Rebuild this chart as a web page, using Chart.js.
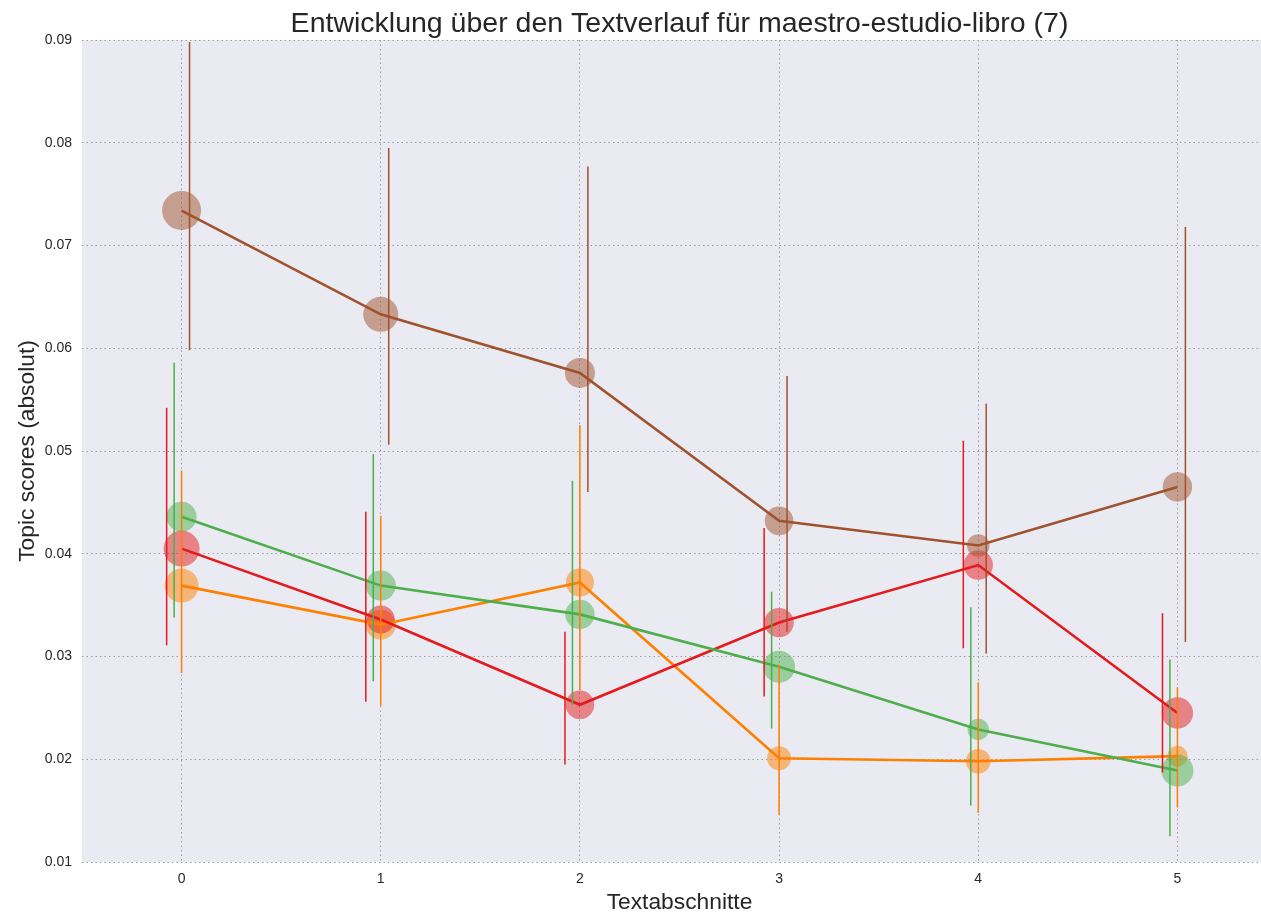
<!DOCTYPE html>
<html>
<head>
<meta charset="utf-8">
<script src="https://cdn.jsdelivr.net/npm/chart.js@4/dist/chart.umd.min.js"></script>
<style>
    html, body { margin: 0; padding: 0; background: #fff; overflow: hidden; }
    #wrap { width: 1300px; height: 914px; }
</style>
</head>
<body>
<div id="wrap"><canvas id="topic-chart"></canvas></div>
<script>
// Textabschnitte on the x axis, topic score ticks on the y axis
const sections = [0, 1, 2, 3, 4, 5];
const yTicks = [0.01, 0.02, 0.03, 0.04, 0.05, 0.06, 0.07, 0.08, 0.09];

// Brown topic
const brownMean = [0.0734, 0.0633, 0.0576, 0.0432, 0.0408, 0.0465];
const brownLow = [0.0598, 0.0506, 0.0460, 0.0324, 0.0303, 0.0314];
const brownHigh = [0.0898, 0.0795, 0.0777, 0.0573, 0.0546, 0.0718];
const brownWeight = [19.5, 17.5, 15, 14.3, 11.3, 14.7];

// Green topic
const greenMean = [0.0436, 0.0369, 0.0341, 0.0290, 0.0229, 0.0189];
const greenLow = [0.0338, 0.0276, 0.0253, 0.0230, 0.0155, 0.0125];
const greenHigh = [0.0586, 0.0497, 0.0471, 0.0363, 0.0348, 0.0297];
const greenWeight = [15, 15, 14.7, 16, 10.7, 16];

// Red topic
const redMean = [0.0405, 0.0336, 0.0253, 0.0333, 0.0389, 0.0245];
const redLow = [0.0311, 0.0256, 0.0195, 0.0261, 0.0308, 0.0187];
const redHigh = [0.0542, 0.0441, 0.0324, 0.0425, 0.0510, 0.0342];
const redWeight = [18, 14, 14.3, 14.7, 14.7, 15.7];

// Orange topic
const orangeMean = [0.0369, 0.0331, 0.0372, 0.0201, 0.0198, 0.0203];
const orangeLow = [0.0284, 0.0252, 0.0267, 0.0146, 0.0148, 0.0153];
const orangeHigh = [0.0481, 0.0437, 0.0525, 0.0292, 0.0275, 0.0270];
const orangeWeight = [17, 15, 14, 12, 12.3, 10.3];

const series = [
    { mean: brownMean, low: brownLow, high: brownHigh, weight: brownWeight, color: "160, 82, 45", shift: 0.04 },
    { mean: greenMean, low: greenLow, high: greenHigh, weight: greenWeight, color: "77, 175, 74", shift: -0.0375 },
    { mean: redMean, low: redLow, high: redHigh, weight: redWeight, color: "228, 26, 28", shift: -0.075 },
    { mean: orangeMean, low: orangeLow, high: orangeHigh, weight: orangeWeight, color: "255, 127, 0", shift: 0 },
];

const FONT = "'Liberation Sans', Arial, sans-serif";
const TEXT = "#262626";

// build datasets: error bars on top, then lines, then bubbles
const datasets = [];
series.forEach((s) => {
    // error bars as broken line segments
    const bars = [];
    sections.forEach((x, i) => {
        bars.push({ x: x + s.shift, y: s.low[i] });
        bars.push({ x: x + s.shift, y: s.high[i] });
        bars.push({ x: x + s.shift, y: null });
    });
    datasets.push({
        type: "line",
        data: bars,
        borderColor: `rgba(${s.color}, 1)`,
        borderWidth: 1.5,
        pointRadius: 0,
        spanGaps: false,
        order: 0,
    });
    datasets.push({
        type: "line",
        data: sections.map((x, i) => ({ x, y: s.mean[i] })),
        borderColor: `rgba(${s.color}, 1)`,
        borderWidth: 2.6,
        pointRadius: 0,
        tension: 0,
        order: 1,
    });
    datasets.push({
        type: "bubble",
        data: sections.map((x, i) => ({ x, y: s.mean[i], r: s.weight[i] })),
        backgroundColor: `rgba(${s.color}, 0.5)`,
        borderWidth: 0,
        order: 2,
    });
});

// light plot background
const plotBackground = {
    id: "plotBackground",
    beforeDraw(chart) {
        const { ctx, chartArea } = chart;
        ctx.save();
        ctx.fillStyle = "#eaeaf2";
        ctx.fillRect(chartArea.left, chartArea.top, chartArea.right - chartArea.left, chartArea.bottom - chartArea.top);
        ctx.restore();
    },
};

const gridConfig = {
    color: "#9c9ca0",
    lineWidth: 1,
    drawTicks: false,
};
const borderConfig = { display: false, dash: [1.5, 3] };

new Chart(document.getElementById("topic-chart"), {
    type: "line",
    data: { datasets },
    plugins: [plotBackground],
    options: {
        responsive: true,
        maintainAspectRatio: false,
        animation: false,
        layout: { padding: { left: 0, right: 23, top: 0, bottom: 0 } },
        plugins: {
            legend: { display: false },
            tooltip: { enabled: false },
            title: {
                display: true,
                fullSize: false,
                text: "Entwicklung über den Textverlauf für maestro-estudio-libro (7)",
                color: TEXT,
                font: { family: FONT, size: 28.5, weight: "normal", lineHeight: 1.088 },
                padding: { top: 9, bottom: 0 },
            },
        },
        scales: {
            x: {
                type: "linear",
                min: -0.5,
                max: 5.5,
                afterBuildTicks: (scale) => {
                    scale.ticks = sections.map((v) => ({ value: v }));
                },
                afterFit: (scale) => {
                    scale.height = 52;
                },
                border: borderConfig,
                grid: gridConfig,
                ticks: {
                    color: TEXT,
                    padding: 9,
                    font: { family: FONT, size: 14 },
                    callback: (v) => String(v),
                },
                title: {
                    display: true,
                    text: "Textabschnitte",
                    color: TEXT,
                    font: { family: FONT, size: 22.8, lineHeight: 1 },
                    padding: { top: 4, bottom: 0 },
                },
            },
            y: {
                min: 0.01,
                max: 0.09,
                afterBuildTicks: (scale) => {
                    scale.ticks = yTicks.map((v) => ({ value: v }));
                },
                afterFit: (scale) => {
                    scale.width = 82;
                },
                border: borderConfig,
                grid: gridConfig,
                ticks: {
                    color: TEXT,
                    padding: 10,
                    font: { family: FONT, size: 14 },
                    callback: (v) => v.toFixed(2),
                },
                title: {
                    display: true,
                    text: "Topic scores (absolut)",
                    color: TEXT,
                    font: { family: FONT, size: 22.8, lineHeight: 1 },
                    padding: { top: 16, bottom: 8 },
                },
            },
        },
    },
});
</script>
</body>
</html>
